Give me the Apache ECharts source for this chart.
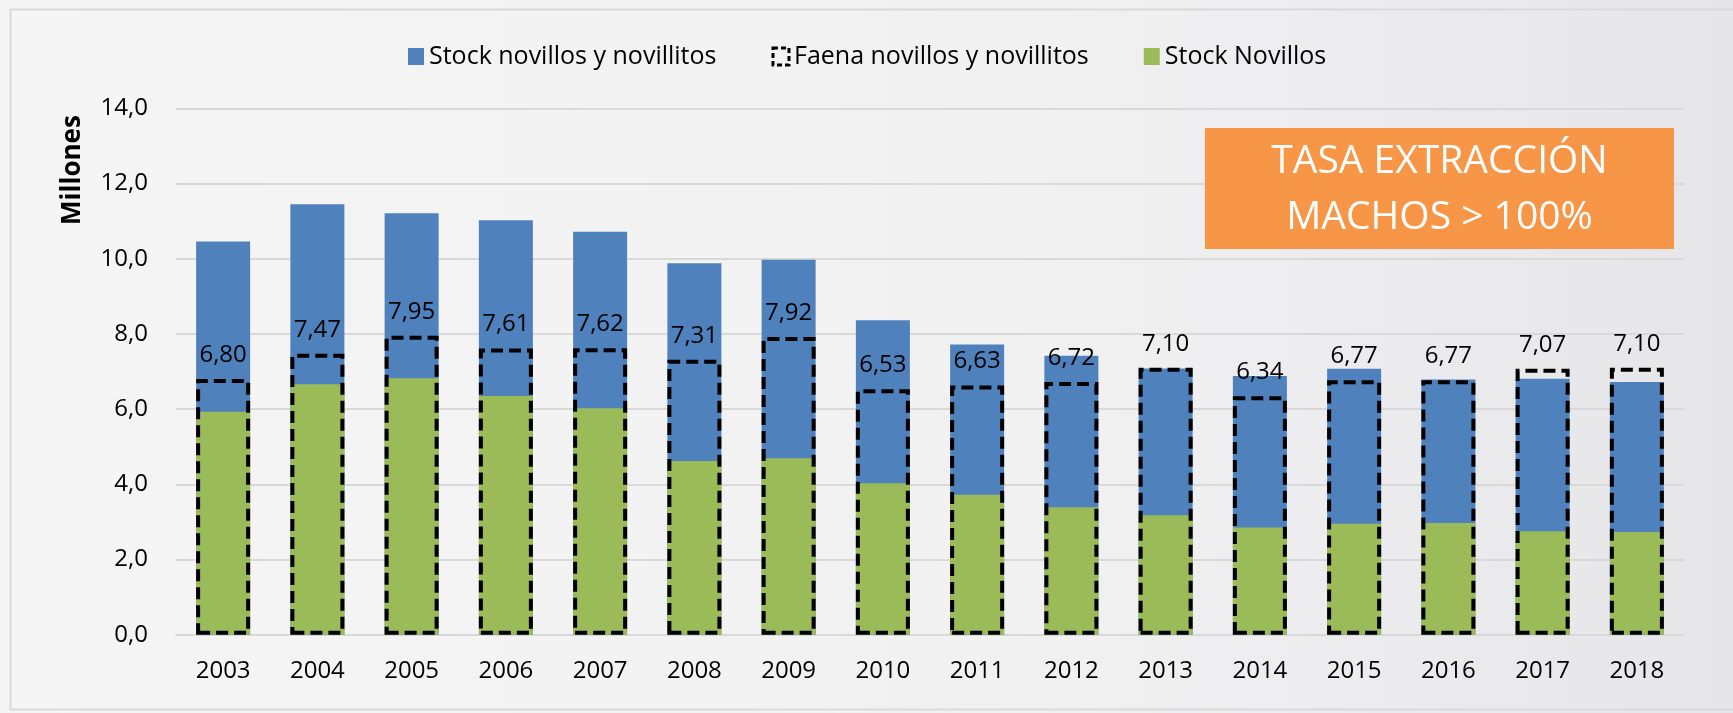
<!DOCTYPE html>
<html>
<head>
<meta charset="utf-8">
<script src="https://cdn.jsdelivr.net/npm/echarts@6/dist/echarts.min.js"></script>
<style>
html,body{margin:0;padding:0;}
#chart{width:1733px;height:713px;}
</style>
</head>
<body>
<div id="chart"></div>
<script>
var years = ['2003','2004','2005','2006','2007','2008','2009','2010','2011','2012','2013','2014','2015','2016','2017','2018'];
var stockNovillosYNovillitos = [10.46,11.45,11.21,11.02,10.72,9.88,9.97,8.36,7.72,7.42,7.08,6.88,7.07,6.79,6.81,6.72];
var faenaNovillosYNovillitos = [6.80,7.47,7.95,7.61,7.62,7.31,7.92,6.53,6.63,6.72,7.10,6.34,6.77,6.77,7.07,7.10];
var stockNovillos = [5.93,6.66,6.82,6.35,6.02,4.62,4.69,4.03,3.72,3.39,3.18,2.85,2.95,2.97,2.75,2.73];
var seriesNames = ['Stock novillos y novillitos','Faena novillos y novillitos','Stock Novillos'];
var annotationLines = ['TASA EXTRACCIÓN','MACHOS > 100%'];
var yAxisTitle = 'Millones';

var FONT = '"Open Sans", "Noto Sans", sans-serif';
var chart = echarts.init(document.getElementById('chart'), null, {renderer:'canvas'});

function fmt1(v){ return v.toFixed(1).replace('.', ','); }
function fmt2(v){ return v.toFixed(2).replace('.', ','); }

var dashStyle = {color:'rgba(0,0,0,0)',borderColor:'#000',borderWidth:4,borderType:[12,6]};

chart.setOption({
  animation:false,
  backgroundColor:{type:'linear',x:0,y:0,x2:1,y2:0,colorStops:[{offset:0,color:'#f5f5f5'},{offset:0.6,color:'#f1f1f2'},{offset:1,color:'#e6e6e9'}]},
  textStyle:{fontFamily:FONT},
  graphic:[
    {type:'rect',left:8,top:7,shape:{width:1760,height:700},style:{fill:'none',stroke:'#d9d9d9',lineWidth:2},silent:true,z:-10},
    {type:'text',x:73,y:170,rotation:Math.PI/2,z:100,
      style:{text:yAxisTitle,fill:'#000',font:'bold 26px "Open Sans", sans-serif',textAlign:'center',textVerticalAlign:'middle'}},
    {type:'rect',x:1205,y:128,z:100,shape:{width:469,height:121},style:{fill:'#F79646'}},
    {type:'text',x:1439.5,y:162,z:101,style:{text:annotationLines[0],fill:'#ffffff',font:'400 39px "Open Sans", sans-serif',textAlign:'center',textVerticalAlign:'middle'}},
    {type:'text',x:1439.5,y:218,z:101,style:{text:annotationLines[1],fill:'#ffffff',font:'400 39px "Open Sans", sans-serif',textAlign:'center',textVerticalAlign:'middle'}}
  ],
  legend:{
    data:[
      {name:seriesNames[0]},
      {name:seriesNames[1],itemStyle:{color:'rgba(0,0,0,0)',borderColor:'#000',borderWidth:3,borderType:[5,3]}},
      {name:seriesNames[2]}
    ],
    icon:'rect',
    left:403, top:39,
    itemWidth:16, itemHeight:17, itemGap:55,
    textStyle:{fontFamily:FONT,fontSize:25,color:'#000'}
  },
  grid:{left:176,right:49,top:108.3,bottom:78.3,containLabel:false},
  xAxis:{
    type:'category',data:years,
    axisLine:{show:true,lineStyle:{color:'#d9d9d9',width:2}},
    axisTick:{show:false},
    axisLabel:{fontFamily:FONT,fontSize:24,color:'#000',margin:24}
  },
  yAxis:{
    type:'value',min:0,max:14,interval:2,
    axisLine:{show:false},axisTick:{show:false},
    axisLabel:{fontFamily:FONT,fontSize:24,color:'#000',margin:28,formatter:fmt1},
    splitLine:{lineStyle:{color:'#d9d9d9',width:2}}
  },
  series:[
    {name:seriesNames[0],type:'bar',data:stockNovillosYNovillitos,barWidth:54,barGap:'-100%',itemStyle:{color:'#4F81BD'},z:2},
    {name:seriesNames[2],type:'bar',data:stockNovillos,barWidth:54,barGap:'-100%',itemStyle:{color:'#9BBB59'},z:3},
    {name:seriesNames[1],type:'bar',data:faenaNovillosYNovillitos,barWidth:54,barGap:'-100%',z:4,
      itemStyle:dashStyle,
      label:{show:true,position:'top',distance:12,formatter:function(p){return fmt2(p.value);},fontFamily:FONT,fontSize:24,color:'#000'}
    }
  ]
});
</script>
</body>
</html>
